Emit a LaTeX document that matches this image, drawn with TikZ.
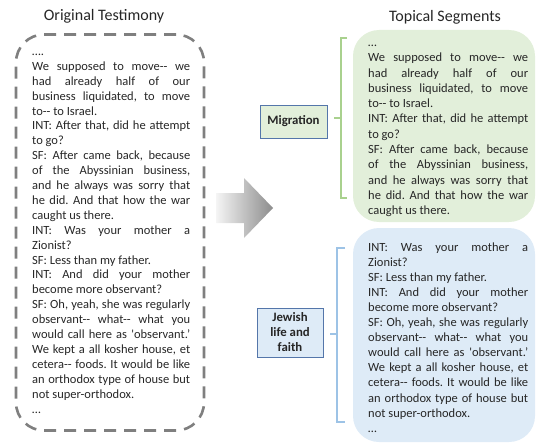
\documentclass[tikz,border=0pt]{standalone}
\usepackage{fontspec}
\newfontfamily\cb{Carlito}
\definecolor{greenfill}{RGB}{226,239,218}
\definecolor{bluefill}{RGB}{222,235,247}
\definecolor{greenbr}{RGB}{169,209,142}
\definecolor{bluebr}{RGB}{157,195,230}
\definecolor{boxborder}{RGB}{84,118,170}
\definecolor{dashgray}{RGB}{127,127,127}
\definecolor{txtcol}{RGB}{38,38,38}
\newcommand\jline[1]{\hbox to \hsize{\strut #1}}
\newcommand\lline[1]{\hbox{\strut #1}}
\newcommand\txtblock[3]{\vtop{\hsize=#1\cb\frenchspacing\fontsize{12.5}{#2}\selectfont #3}}
\tikzset{
  title/.style={font=\cb\fontsize{16}{18}\selectfont, inner sep=0pt, text=txtcol},
  dashbox/.style={draw=dashgray, line width=2.6pt, dash pattern=on 12pt off 8pt, rounded corners=28pt, inner sep=0pt},
  segbox/.style={rounded corners=26pt, inner sep=0pt},
  topicbox/.style={draw=boxborder, line width=0.8pt, inner sep=0pt, align=center, text=txtcol, font=\cb\bfseries\fontsize{12.8}{15}\selectfont},
  bracket/.style={line width=1.6pt},
  txt/.style={anchor=base west, inner sep=0pt, text=txtcol}
}
\begin{document}
\begin{tikzpicture}[x=1pt,y=-1pt]
\useasboundingbox (0,0) rectangle (538,444);
% titles
\node[title] (t1) at (104,16) {Original Testimony};
\node[title] (t2) at (445,17) {Topical Segments};
% left dashed box
\node[dashbox, minimum width=188pt, minimum height=396pt] (orig) at (110,232.5) {};
\node[txt] (origtext) at (32,55.5) {\txtblock{158pt}{14.9}{%
\lline{….}
\jline{We supposed to move-- we}
\jline{had already half of our}
\jline{business liquidated, to move}
\lline{to-- to Israel.}
\jline{INT: After that, did he attempt}
\lline{to go?}
\jline{SF: After came back, because}
\jline{of the Abyssinian business,}
\jline{and he always was sorry that}
\jline{he did. And that how the war}
\lline{caught us there.}
\jline{INT: Was your mother a}
\lline{Zionist?}
\lline{SF: Less than my father.}
\jline{INT: And did your mother}
\lline{become more observant?}
\jline{SF: Oh, yeah, she was regularly}
\jline{observant-- what-- what you}
\jline{would call here as 'observant.’}
\jline{We kept a all kosher house, et}
\jline{cetera-- foods. It would be like}
\jline{an orthodox type of house but}
\lline{not super-orthodox.}
\lline{…}}};
% arrow
\shade[left color=black!4, right color=black!45]
  (216,193) -- (244,193) -- (244,178) -- (273,208) -- (244,238) -- (244,223) -- (216,223) -- cycle;
% green segment
\node[segbox, fill=greenfill, minimum width=182pt, minimum height=192pt] (seg1) at (444,126) {};
\node[txt] (seg1text) at (368,46.5) {\txtblock{160pt}{15.3}{%
\lline{…}
\jline{We supposed to move-- we}
\jline{had already half of our}
\jline{business liquidated, to move}
\lline{to-- to Israel.}
\jline{INT: After that, did he attempt}
\lline{to go?}
\jline{SF: After came back, because}
\jline{of the Abyssinian business,}
\jline{and he always was sorry that}
\jline{he did. And that how the war}
\lline{caught us there.}}};
% blue segment
\node[segbox, fill=bluefill, minimum width=182pt, minimum height=214pt] (seg2) at (444,335) {};
\node[txt] (seg2text) at (368,251) {\txtblock{160pt}{15.1}{%
\jline{INT: Was your mother a}
\lline{Zionist?}
\lline{SF: Less than my father.}
\jline{INT: And did your mother}
\lline{become more observant?}
\jline{SF: Oh, yeah, she was regularly}
\jline{observant-- what-- what you}
\jline{would call here as 'observant.’}
\jline{We kept a all kosher house, et}
\jline{cetera-- foods. It would be like}
\jline{an orthodox type of house but}
\lline{not super-orthodox.}
\lline{…}}};
% topic boxes
\node[topicbox, fill=greenfill, minimum width=67pt, minimum height=33pt] (mig) at (293.5,121.5) {Migration};
\node[topicbox, fill=bluefill, minimum width=66pt, minimum height=49pt] (jew) at (290,332.5) {Jewish\\life and\\faith};
% brackets
\coordinate (g1) at (347,38); \coordinate (g2) at (341,38);
\coordinate (g3) at (341,198); \coordinate (g4) at (347,198);
\coordinate (gm) at (341,118); \coordinate (gt) at (334,118);
\draw[bracket, greenbr] (g1) -- (g2) -- (g3) -- (g4);
\draw[bracket, greenbr] (gm) -- (gt);
\coordinate (b1) at (345,248); \coordinate (b2) at (337,248);
\coordinate (b3) at (337,422); \coordinate (b4) at (345,422);
\coordinate (bm) at (337,334); \coordinate (bt) at (330,334);
\draw[bracket, bluebr] (b1) -- (b2) -- (b3) -- (b4);
\draw[bracket, bluebr] (bm) -- (bt);
\end{tikzpicture}
\end{document}
